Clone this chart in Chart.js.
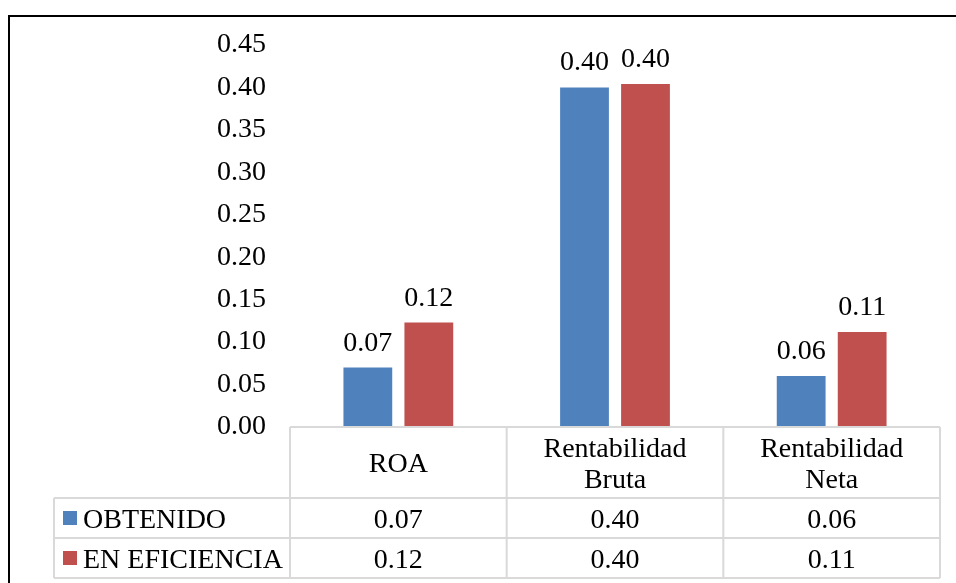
<!DOCTYPE html>
<html>
<head>
<meta charset="utf-8">
<script src="https://cdn.jsdelivr.net/npm/chart.js@4"></script>
<style>
  html, body { margin: 0; padding: 0; background: #fff; }
  #wrap { width: 956px; height: 583px; position: relative; }
</style>
</head>
<body>
<div id="wrap"><canvas id="c" width="956" height="583"></canvas></div>
<script>
// Indicadores de rentabilidad: valor obtenido frente al valor en eficiencia
const categories = ['ROA', ['Rentabilidad', 'Bruta'], ['Rentabilidad', 'Neta']];
const seriesNames = ['OBTENIDO', 'EN EFICIENCIA'];
const obtenido = [0.070, 0.400, 0.060];
const enEficiencia = [0.123, 0.404, 0.112];
const yTicks = [0, 0.05, 0.10, 0.15, 0.20, 0.25, 0.30, 0.35, 0.40, 0.45];

const BLUE = '#4F81BD';
const RED = '#C0504D';
const FONT = 'Liberation Serif, "Times New Roman", serif';
const FS = 28;
const GRID = '#D9D9D9';

const fmt = v => v.toFixed(2);

// Data labels above each bar
const barLabels = {
  id: 'barLabels',
  afterDatasetsDraw(chart) {
    const ctx = chart.ctx;
    ctx.save();
    ctx.font = FS + 'px ' + FONT;
    ctx.fillStyle = '#000';
    ctx.textAlign = 'center';
    ctx.textBaseline = 'alphabetic';
    chart.data.datasets.forEach((ds, di) => {
      chart.getDatasetMeta(di).data.forEach((bar, i) => {
        ctx.fillText(fmt(ds.data[i]), bar.x, bar.y - 17);
      });
    });
    ctx.restore();
  }
};

// Data table under the plot plus the frame of the chart
const dataTable = {
  id: 'dataTable',
  afterDraw(chart) {
    const ctx = chart.ctx;
    const xs = chart.scales.x;
    const area = chart.chartArea;
    const n = chart.data.labels.length;
    const catW = (area.right - area.left) / n;
    const colEdges = [];
    for (let i = 0; i <= n; i++) colEdges.push(area.left + i * catW);

    const top = area.bottom;
    const headBottom = top + 71;
    const rowH = 40;
    const rows = chart.data.datasets.length;
    const bottom = headBottom + rows * rowH;
    const legendLeft = 54;

    ctx.save();
    ctx.strokeStyle = GRID;
    ctx.lineWidth = 2;
    ctx.beginPath();
    // header row top
    ctx.moveTo(area.left, top); ctx.lineTo(area.right, top);
    // row separators
    for (let r = 0; r <= rows; r++) {
      const y = headBottom + r * rowH;
      ctx.moveTo(legendLeft, y); ctx.lineTo(area.right, y);
    }
    // column lines
    colEdges.forEach(x => { ctx.moveTo(x, top); ctx.lineTo(x, bottom); });
    ctx.moveTo(legendLeft, headBottom); ctx.lineTo(legendLeft, bottom);
    ctx.stroke();

    ctx.font = FS + 'px ' + FONT;
    ctx.fillStyle = '#000';
    ctx.textAlign = 'center';
    ctx.textBaseline = 'alphabetic';
    const lineH = 31;
    const headMid = (top + headBottom) / 2;
    chart.data.labels.forEach((lab, i) => {
      const lines = Array.isArray(lab) ? lab : [lab];
      const cx = xs.getPixelForValue(i);
      const first = headMid + 9.5 - (lines.length - 1) * lineH / 2;
      lines.forEach((t, k) => ctx.fillText(t, cx, first + k * lineH));
    });

    chart.data.datasets.forEach((ds, r) => {
      const mid = headBottom + r * rowH + rowH / 2;
      ctx.fillStyle = ds.backgroundColor;
      ctx.fillRect(63, mid - 7, 14, 14);
      ctx.fillStyle = '#000';
      ctx.textAlign = 'left';
      ctx.fillText(ds.label, 83, mid + 9.5);
      ctx.textAlign = 'center';
      ds.data.forEach((v, i) => {
        ctx.fillText(fmt(v), xs.getPixelForValue(i), mid + 9.5);
      });
    });

    // outer frame (top and left edges)
    ctx.fillStyle = '#000';
    ctx.fillRect(8, 15, 2, chart.height - 15);
    ctx.fillRect(8, 15, chart.width - 8, 2);
    ctx.restore();
  }
};

new Chart(document.getElementById('c'), {
  type: 'bar',
  data: {
    labels: categories,
    datasets: [
      { label: seriesNames[0], data: obtenido, backgroundColor: BLUE },
      { label: seriesNames[1], data: enEficiencia, backgroundColor: RED }
    ]
  },
  options: {
    responsive: false,
    animation: false,
    layout: { padding: { top: 45, right: 16, bottom: 156, left: 0 } },
    plugins: { legend: { display: false }, tooltip: { enabled: false } },
    datasets: { bar: { categoryPercentage: 0.563, barPercentage: 0.8 } },
    scales: {
      x: { display: false },
      y: {
        min: 0,
        max: 0.45,
        afterFit(scale) { scale.width = 290; },
        afterBuildTicks(scale) { scale.ticks = yTicks.map(v => ({ value: v })); },
        grid: { display: false, drawTicks: false },
        border: { display: false },
        ticks: {
          padding: 24,
          color: '#000',
          font: { family: FONT, size: FS },
          callback: v => fmt(v)
        }
      }
    }
  },
  plugins: [barLabels, dataTable]
});
</script>
</body>
</html>
